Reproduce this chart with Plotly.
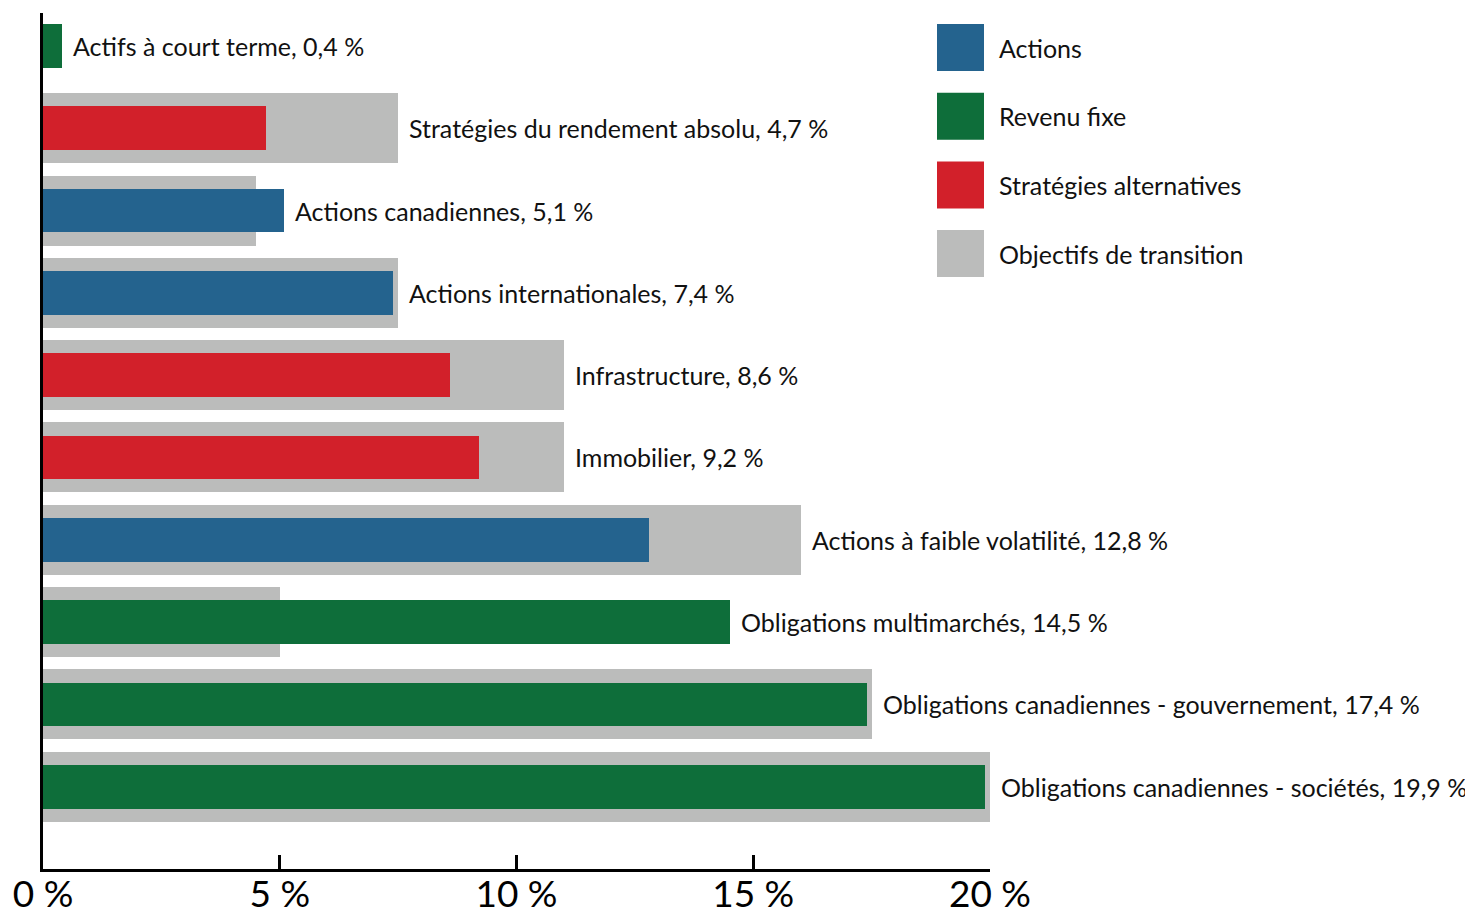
import plotly.graph_objects as go

categories = [
    "Actifs à court terme",
    "Stratégies du rendement absolu",
    "Actions canadiennes",
    "Actions internationales",
    "Infrastructure",
    "Immobilier",
    "Actions à faible volatilité",
    "Obligations multimarchés",
    "Obligations canadiennes - gouvernement",
    "Obligations canadiennes - sociétés",
]
current = [0.4, 4.7, 5.1, 7.4, 8.6, 9.2, 12.8, 14.5, 17.4, 19.9]
target = [0.0, 7.5, 4.5, 7.5, 11.0, 11.0, 16.0, 5.0, 17.5, 20.0]
asset_class = ["Revenu fixe", "Stratégies alternatives", "Actions", "Actions",
               "Stratégies alternatives", "Stratégies alternatives", "Actions",
               "Revenu fixe", "Revenu fixe", "Revenu fixe"]
legend_names = ["Actions", "Revenu fixe", "Stratégies alternatives", "Objectifs de transition"]
tick_vals = [0, 5, 10, 15, 20]
tick_text = ["0 %", "5 %", "10 %", "15 %", "20 %"]

colors = {
    "Actions": "#24638E",
    "Revenu fixe": "#0E6E3A",
    "Stratégies alternatives": "#D2202A",
    "Objectifs de transition": "#BBBCBB",
}
FONT = "Lato, 'Open Sans', sans-serif"

ML, MR, MT, MB = 35, 491, 5, 54
W, H = 1473, 915

fig = go.Figure()
fig.add_trace(go.Bar(
    y=categories, x=target, orientation="h", width=0.85,
    marker=dict(color=colors["Objectifs de transition"], line=dict(width=0)),
    showlegend=False, hoverinfo="skip",
))
fig.add_trace(go.Bar(
    y=categories, x=current, orientation="h", width=0.53,
    marker=dict(color=[colors[c] for c in asset_class], line=dict(width=0)),
    showlegend=False,
))

for cat, cur, tgt in zip(categories, current, target):
    fig.add_annotation(
        x=max(cur, tgt), y=cat, xref="x", yref="y",
        text=f"{cat}, {str(cur).replace('.', ',')} %",
        showarrow=False, xanchor="left", xshift=9,
        font=dict(family=FONT, size=25, color="#111111"),
    )

# legend (squares + labels), positioned relative to the plot area
pw = W - ML - MR
ph = H - MT - MB
for i, name in enumerate(legend_names):
    top = 11 + i * 68.7  # px below plot top
    fig.add_shape(
        type="rect", xref="paper", yref="paper",
        x0=894 / pw, x1=941 / pw,
        y0=1 - (top + 47) / ph, y1=1 - top / ph,
        fillcolor=colors[name], line=dict(width=0),
    )
    fig.add_annotation(
        x=954 / pw, y=1 - (top + 23.5) / ph, xref="paper", yref="paper",
        text=name, showarrow=False, xanchor="left", yanchor="middle",
        font=dict(family=FONT, size=25, color="#111111"),
    )

fig.update_layout(
    width=W, height=H,
    margin=dict(l=ML, r=MR, t=MT, b=MB, autoexpand=False),
    barmode="overlay", bargap=0,
    plot_bgcolor="white", paper_bgcolor="white",
    showlegend=False,
    xaxis=dict(
        range=[0, 20], tickvals=tick_vals, ticktext=tick_text,
        showgrid=False, zeroline=False, automargin=False,
        showline=True, linecolor="black", linewidth=3,
        ticks="inside", ticklen=14, tickwidth=3, tickcolor="black",
        ticklabelstandoff=-9,
        tickfont=dict(family=FONT, size=37, color="black"),
    ),
    yaxis=dict(
        type="category", categoryorder="array", categoryarray=categories,
        range=[10.0, -0.4], showticklabels=False, automargin=False,
        showgrid=False, zeroline=False,
        showline=True, linecolor="black", linewidth=3, ticks="",
    ),
)

fig.write_html("out.html")
